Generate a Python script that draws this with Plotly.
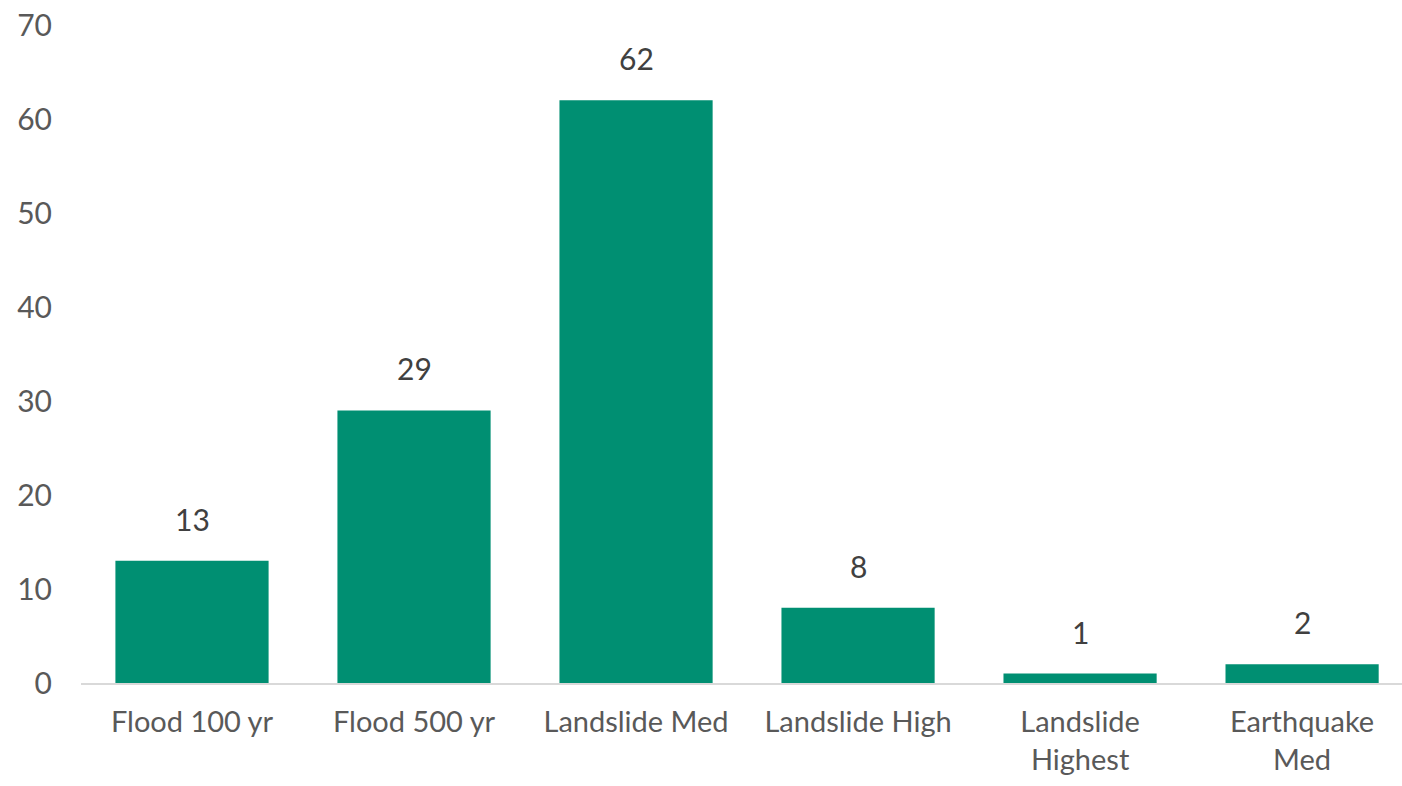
import plotly.graph_objects as go

categories = ["Flood 100 yr", "Flood 500 yr", "Landslide Med", "Landslide High",
              "Landslide<br>Highest", "Earthquake<br>Med"]
counts = [13, 29, 62, 8, 1, 2]
y_ticks = [0, 10, 20, 30, 40, 50, 60, 70]

bar_color = "#008F72"
axis_text = "#595959"
label_text = "#404040"
font_family = "Lato, Noto Sans, sans-serif"

fig = go.Figure(
    go.Bar(
        x=categories,
        y=counts,
        marker=dict(color=bar_color, line=dict(width=0)),
        hoverinfo="skip",
    )
)

# value labels above each bar
for cat, val in zip(categories, counts):
    fig.add_annotation(
        x=cat, y=val, text=str(val), showarrow=False,
        yanchor="bottom", yshift=22,
        font=dict(family=font_family, size=30, color=label_text),
    )

fig.update_layout(
    width=1402, height=786,
    margin=dict(l=81, r=0, t=25, b=103),
    paper_bgcolor="white", plot_bgcolor="white",
    bargap=0.31,
    showlegend=False,
    font=dict(family=font_family, size=29, color=axis_text),
)
fig.update_xaxes(
    range=[-0.5, 5.45],
    showgrid=False, showline=True, linecolor="#D9D9D9", linewidth=2,
    ticks="", ticklabelstandoff=12,
    tickfont=dict(family=font_family, size=29, color=axis_text),
)
fig.update_yaxes(
    range=[0, 70], tickvals=y_ticks, showgrid=False, zeroline=False,
    showline=False, ticks="", ticklabelstandoff=28,
    tickfont=dict(family=font_family, size=30, color=axis_text),
)

fig.write_html("out.html")
